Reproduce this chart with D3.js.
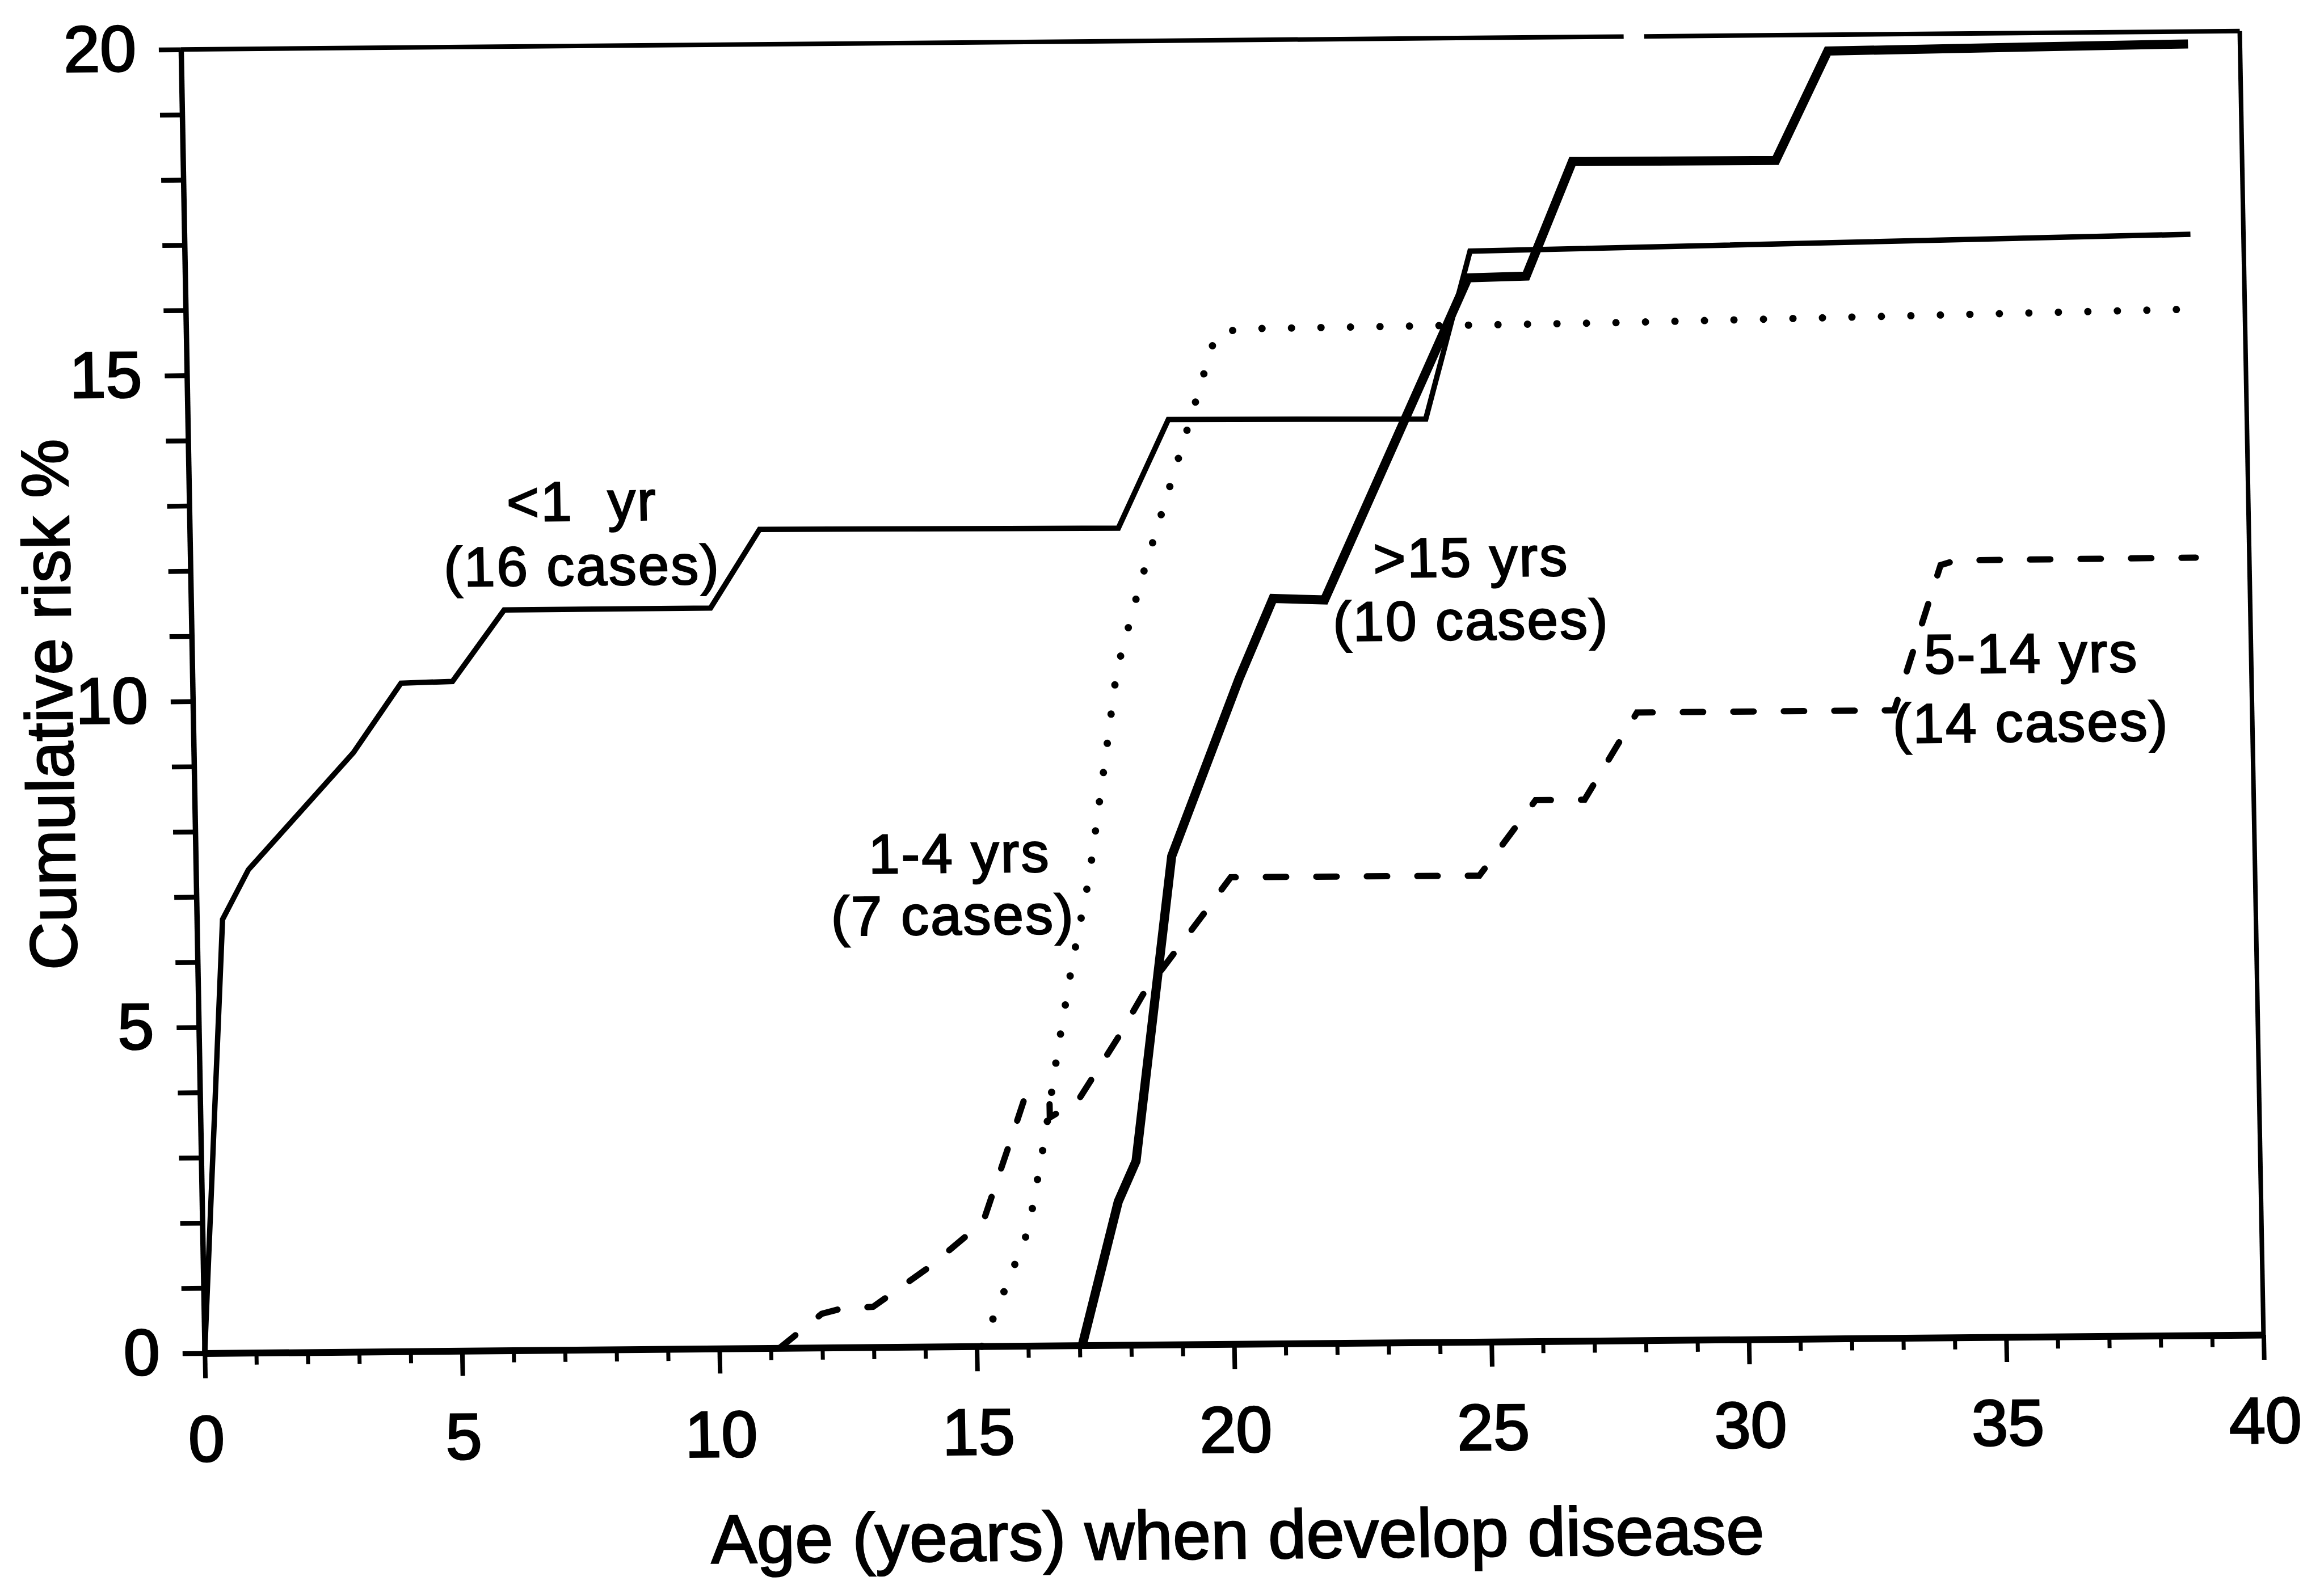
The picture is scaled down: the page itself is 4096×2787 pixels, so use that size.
<!DOCTYPE html>
<html>
<head>
<meta charset="utf-8">
<script src="https://cdn.jsdelivr.net/npm/d3@7"></script>
<style>
  body { margin: 0; background: #fff; }
  svg { display: block; }
  text { font-family: "Liberation Sans", Arial, sans-serif; fill: #000; }
</style>
</head>
<body>
<svg id="chart" width="4096" height="2787"></svg>
<script>
// ---- data ----
const ageTicks = d3.range(0, 41);            // a tick every year
const ageLabels = [0, 5, 10, 15, 20, 25, 30, 35, 40];
const riskTicks = d3.range(0, 21);           // a tick every percent
const riskLabels = [0, 5, 10, 15, 20];

// [age, cumulative risk %]
const under1 = [[0,0],[0.5,6.65],[1.02,7.41],[3.1,9.19],[4.05,10.25],[5.05,10.27],[6.08,11.36],
  [10.09,11.36],[11.07,12.56],[18.04,12.53],[19.05,14.19],[24.05,14.16],[24.97,16.73],[38.97,16.89]];
const age1to4 = [[15.1,0],[15.6,0.93],[16.05,1.79],[16.4,3.2],[16.67,4.49],[16.99,5.86],[17.35,7.18],
  [17.7,8.97],[17.96,10.35],[18.45,11.69],[18.98,12.98],[19.51,14.27],[19.83,15.07],[20.01,15.5],
  [20.5,15.57],[27.5,15.61],[38.87,15.74]];
const age5to14 = [[11.17,0],[12.0,0.52],[12.4,0.6],[13.0,0.62],[14.1,1.22],[15.17,1.91],[15.85,3.42],
  [16.0,3.76],[16.5,3.76],[16.5,3.5],[17.05,3.75],[17.85,4.71],[18.35,5.37],[19.52,6.56],[20.1,7.16],
  [24.93,7.15],[26.05,8.3],[27.0,8.3],[28.05,9.63],[33.05,9.63],[34.0,11.85],[34.3,11.92],[38.96,11.93]];
const over15 = [[17.05,0],[17.8,2.2],[18.16,2.82],[18.96,7.49],[20.33,10.2],[21.02,11.43],[22.02,11.4],
  [24.92,16.32],[26.05,16.34],[26.99,18.09],[30.94,18.08],[31.99,19.75],[38.99,19.81]];

const labels = [
  { text: "<1  yr",     age: 7.63,  risk: 12.72 },
  { text: "(16 cases)", age: 7.61,  risk: 11.73 },
  { text: ">15 yrs",    age: 24.88, risk: 11.74 },
  { text: "(10 cases)", age: 24.86, risk: 10.77 },
  { text: "1-4 yrs",    age: 14.84, risk: 7.27 },
  { text: "(7 cases)",  age: 14.69, risk: 6.32 },
  { text: "5-14 yrs",   age: 35.73, risk: 10.19 },
  { text: "(14 cases)", age: 35.7,  risk: 9.13 }
];

// ---- layout ----
const W = 3628.6, H = 2298.2;
const svg = d3.select("#chart");

// the scan is slightly rotated/sheared, so the whole plot sits in a skewed group
const g = svg.append("g")
  .attr("transform", "matrix(1 -0.008954 0.01823 1 318.9 87.25)");

const x = d3.scaleLinear().domain([0, 40]).range([0, W]);
const y = d3.scaleLinear().domain([0, 20]).range([H, 0]);

// x axis: minor ticks, then major ticks with labels
g.append("g")
  .attr("transform", `translate(0,${H})`)
  .call(d3.axisBottom(x).tickValues(ageTicks).tickSize(21).tickSizeOuter(0).tickFormat(""))
  .call(a => a.select(".domain").attr("stroke-width", 12))
  .call(a => a.selectAll(".tick line").attr("stroke-width", 7));

g.append("g")
  .attr("transform", `translate(0,${H})`)
  .call(d3.axisBottom(x).tickValues(ageLabels).tickSize(44).tickSizeOuter(0).tickPadding(65))
  .call(a => a.select(".domain").remove())
  .call(a => a.selectAll(".tick line").attr("stroke-width", 8))
  .call(a => a.selectAll(".tick text")
    .attr("font-size", 115).attr("font-family", "Liberation Sans, Arial")
    .attr("stroke", "#000").attr("stroke-width", 3));

// y axis
g.append("g")
  .call(d3.axisLeft(y).tickValues(riskTicks).tickSize(39).tickSizeOuter(0).tickPadding(40)
    .tickFormat(d => riskLabels.includes(d) ? d : ""))
  .call(a => a.select(".domain").attr("stroke-width", 9.5))
  .call(a => a.selectAll(".tick line").attr("stroke-width", 8.5))
  .call(a => a.selectAll(".tick text")
    .attr("font-size", 115).attr("font-family", "Liberation Sans, Arial")
    .attr("stroke", "#000").attr("stroke-width", 3));

// frame (top and right), with the small break in the top rule
const frame = g.append("g").attr("stroke", "#000").attr("stroke-width", 8).attr("fill", "none");
frame.append("line").attr("x1", x(0)).attr("x2", x(28.03)).attr("y1", y(20)).attr("y2", y(20));
frame.append("line").attr("x1", x(28.43)).attr("x2", x(40)).attr("y1", y(20)).attr("y2", y(20));
frame.append("line").attr("x1", x(40)).attr("x2", x(40)).attr("y1", y(0)).attr("y2", y(20));

// curves
const line = d3.line().x(d => x(d[0])).y(d => y(d[1]));
const series = [
  { data: under1,   width: 9.5, dash: null },
  { data: age1to4,  width: 13,  dash: "0 52", cap: "round" },
  { data: age5to14, width: 11,  dash: "36 53", cap: "round" },
  { data: over15,   width: 16,  dash: null }
];
g.selectAll("path.curve")
  .data(series)
  .enter()
  .append("path")
  .attr("class", "curve")
  .attr("d", d => line(d.data))
  .attr("fill", "none")
  .attr("stroke", "#000")
  .attr("stroke-width", d => d.width)
  .attr("stroke-dasharray", d => d.dash)
  .attr("stroke-linecap", d => d.cap || "butt")
  .attr("stroke-linejoin", "miter");

// curve annotations
g.selectAll("text.note")
  .data(labels)
  .enter()
  .append("text")
  .attr("class", "note")
  .attr("x", d => x(d.age))
  .attr("y", d => y(d.risk))
  .attr("text-anchor", "middle")
  .attr("font-size", 98)
  .attr("letter-spacing", 3)
  .attr("stroke", "#000").attr("stroke-width", 2.5)
  .attr("xml:space", "preserve")
  .style("white-space", "pre")
  .text(d => d.text);

// axis titles
g.append("text")
  .attr("x", W / 2)
  .attr("y", H + 378)
  .attr("text-anchor", "middle")
  .attr("font-size", 121)
  .attr("stroke", "#000").attr("stroke-width", 2.5)
  .text("Age (years) when develop disease");

g.append("text")
  .attr("transform", "translate(-213,1152.5) rotate(-90)")
  .attr("text-anchor", "middle")
  .attr("font-size", 117)
  .attr("stroke", "#000").attr("stroke-width", 2.5)
  .text("Cumulative risk %");
</script>
</body>
</html>
